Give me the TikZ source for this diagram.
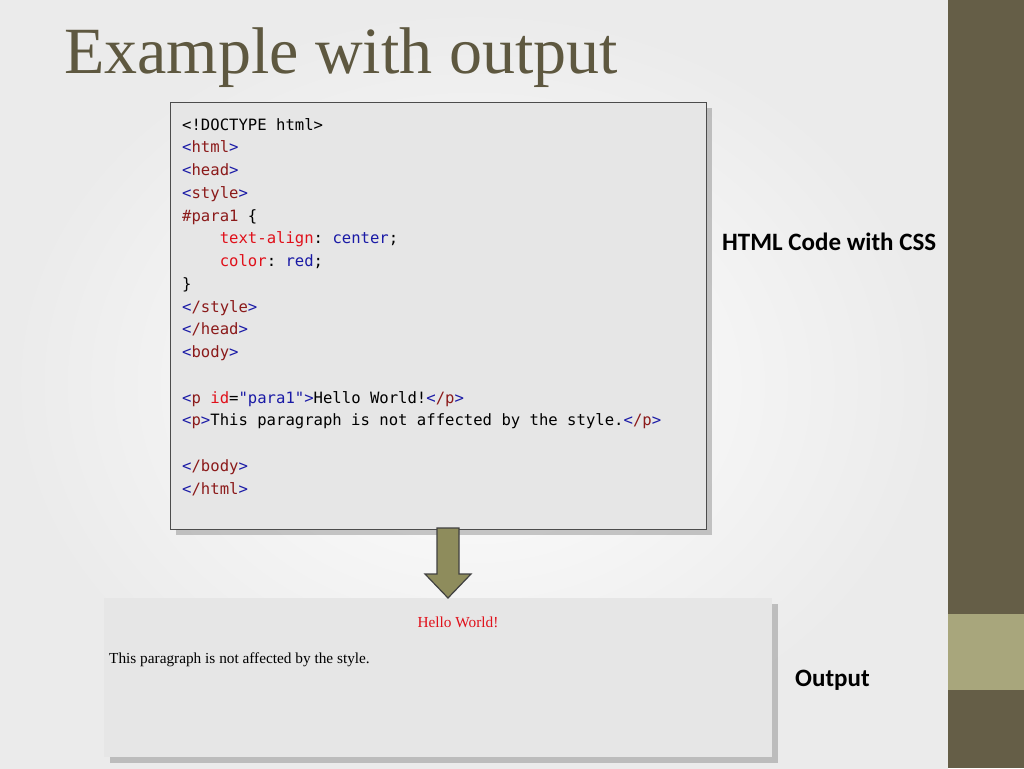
\documentclass[tikz,border=0pt]{standalone}
\usepackage{fontspec}
\setmainfont{Liberation Serif}
\setsansfont{Carlito}
\setmonofont{DejaVu Sans Mono}
\usetikzlibrary{shadows}
\definecolor{olive}{HTML}{655E47}
\definecolor{olivel}{HTML}{A8A67C}
\definecolor{titlec}{HTML}{5E5840}
\definecolor{boxg}{HTML}{E6E6E6}
\definecolor{cb}{HTML}{1A1AA6}
\definecolor{cm}{HTML}{8B1A1A}
\definecolor{cr}{HTML}{E0101A}
\definecolor{arrf}{HTML}{8E8C5C}
\newcommand\cB[1]{\textcolor{cb}{#1}}
\newcommand\cM[1]{\textcolor{cm}{#1}}
\newcommand\cR[1]{\textcolor{cr}{#1}}
\newcommand\tagx[1]{\cB{<}\cM{#1}\cB{>}}
\newcommand\ind{\hspace*{37.6pt}}
\tikzset{code/.style={anchor=base west,inner sep=0pt,font=\ttfamily\fontsize{15.6}{18}\selectfont},
 box/.style={draw=black!70,fill=boxg,drop shadow={shadow xshift=6pt,shadow yshift=-6pt,opacity=0.35,fill=black!60}},
 lab/.style={anchor=base west,inner sep=0pt,font=\sffamily\bfseries\fontsize{25}{28}\selectfont}}
\begin{document}
\begin{tikzpicture}[x=1pt,y=-1pt]
\useasboundingbox (0,0) rectangle (1024,768);
\shade[inner color=white,outer color=black!8] (0,0) rectangle (948,768);
\fill[olive] (948,0) rectangle (1024,768);
\fill[olivel] (948,614) rectangle (1024,690);
\node[anchor=base west,inner sep=0pt,text=titlec,font=\fontsize{66}{70}\selectfont] (title) at (64,73) {Example with output};
\node[box,minimum width=536pt,minimum height=427pt,inner sep=0pt] (codebox) at (438,315.5) {};
\foreach \i/\t in {0/{<!DOCTYPE html>},1/{\tagx{html}},2/{\tagx{head}},3/{\tagx{style}},4/{\cM{\#para1} \{},
 5/{\ind\cR{text-align}: \cB{center};},6/{\ind\cR{color}: \cB{red};},7/{\}},8/{\tagx{/style}},9/{\tagx{/head}},10/{\tagx{body}},
 12/{\cB{<}\cM{p} \cR{id}=\cB{"para1"}\cB{>}Hello World!\tagx{/p}},13/{\tagx{p}This paragraph is not affected by the style.\tagx{/p}},
 15/{\tagx{/body}},16/{\tagx{/html}}}
 \node[code] (l\i) at (182,130+22.75*\i) {\t};
\node[lab] (lab1) at (722,250) {HTML Code with CSS};
\node[box,minimum width=668pt,minimum height=159pt,inner sep=0pt,draw=none] (outbox) at (438,677.5) {};
\node[anchor=base,inner sep=0pt,text=cr,font=\fontsize{15.3}{18}\selectfont] (hw) at (458,627) {Hello World!};
\node[anchor=base west,inner sep=0pt,font=\fontsize{15.3}{18}\selectfont] (para) at (109,663) {This paragraph is not affected by the style.};
\node[lab] (lab2) at (795,686) {Output};
\draw[black!75,fill=arrf,line width=1.2pt] (437,528) -- (459,528) -- (459,574) -- (471,574) -- (448,598) -- (425,574) -- (437,574) -- cycle;
\end{tikzpicture}
\end{document}
